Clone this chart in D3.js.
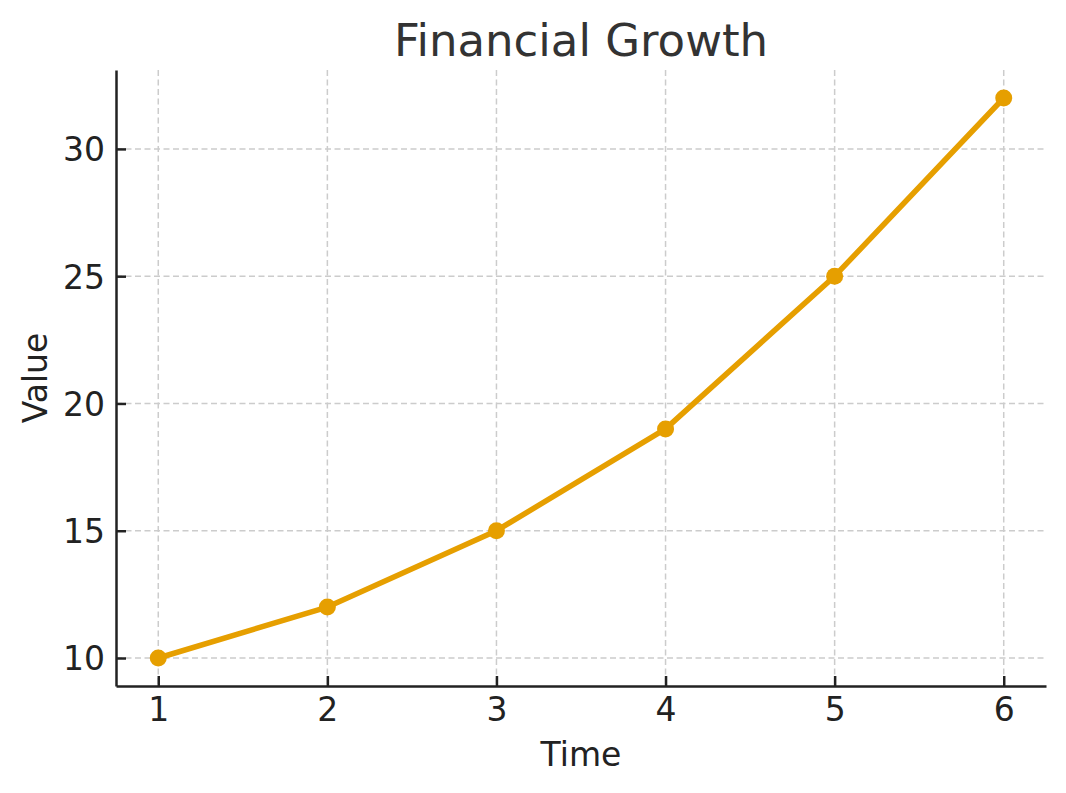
<!DOCTYPE html>
<html>
<head>
<meta charset="utf-8">
<script src="https://cdn.jsdelivr.net/npm/d3@7"></script>
<style>
  body { margin: 0; background: #fff; }
  svg { display: block; font-family: "DejaVu Sans", sans-serif; }
</style>
</head>
<body>
<div id="chart"></div>
<script>
// Chart data
const times = [1, 2, 3, 4, 5, 6];
const values = [10, 12, 15, 19, 25, 32];
const xTicks = [1, 2, 3, 4, 5, 6];
const yTicks = [10, 15, 20, 25, 30];

const width = 1066, height = 793;
const margin = { top: 70, right: 20, bottom: 107, left: 116 };
const innerW = width - margin.left - margin.right;
const innerH = height - margin.top - margin.bottom;

const svg = d3.select("#chart").append("svg")
    .attr("width", width)
    .attr("height", height);

const g = svg.append("g")
    .attr("transform", `translate(${margin.left},${margin.top})`);

// 5% padding like the original
const x = d3.scaleLinear().domain([0.75, 6.25]).range([0, innerW]);
const y = d3.scaleLinear().domain([8.9, 33.1]).range([innerH, 0]);

// Grid lines
g.append("g").selectAll("line")
    .data(xTicks)
    .join("line")
    .attr("x1", d => x(d)).attr("x2", d => x(d))
    .attr("y1", 0).attr("y2", innerH)
    .attr("stroke", "#cccccc")
    .attr("stroke-width", 1.5)
    .attr("stroke-dasharray", "6,3.5");

g.append("g").selectAll("line")
    .data(yTicks)
    .join("line")
    .attr("y1", d => y(d)).attr("y2", d => y(d))
    .attr("x1", 0).attr("x2", innerW)
    .attr("stroke", "#cccccc")
    .attr("stroke-width", 1.5)
    .attr("stroke-dasharray", "6,3.5");

// Axes (ticks pointing inward)
const xAxis = g.append("g")
    .attr("transform", `translate(0,${innerH})`)
    .call(d3.axisBottom(x).tickValues(xTicks).tickSizeInner(-10).tickSizeOuter(0).tickPadding(12).tickFormat(d3.format("d")));

const yAxis = g.append("g")
    .call(d3.axisLeft(y).tickValues(yTicks).tickSizeInner(-10).tickSizeOuter(0).tickPadding(11).tickFormat(d3.format("d")));

[xAxis, yAxis].forEach(ax => {
    ax.select(".domain").attr("stroke", "#222").attr("stroke-width", 2.5);
    ax.selectAll(".tick line").attr("stroke", "#222").attr("stroke-width", 2.5);
    ax.selectAll(".tick text")
        .attr("fill", "#222")
        .style("font-size", "33px")
        .style("font-family", "DejaVu Sans, sans-serif");
});
yAxis.selectAll(".tick text").attr("dy", "0.36em");

// Line
const line = d3.line()
    .x((d, i) => x(times[i]))
    .y(d => y(d));

g.append("path")
    .datum(values)
    .attr("fill", "none")
    .attr("stroke", "#E69F00")
    .attr("stroke-width", 5.5)
    .attr("stroke-linejoin", "round")
    .attr("d", line);

g.append("g").selectAll("circle")
    .data(values)
    .join("circle")
    .attr("cx", (d, i) => x(times[i]))
    .attr("cy", d => y(d))
    .attr("r", 8.5)
    .attr("fill", "#E69F00");

// Title and labels
svg.append("text")
    .attr("x", margin.left + innerW / 2)
    .attr("y", 56)
    .attr("text-anchor", "middle")
    .attr("fill", "#333")
    .style("font-size", "45px")
    .text("Financial Growth");

svg.append("text")
    .attr("x", margin.left + innerW / 2)
    .attr("y", 766)
    .attr("text-anchor", "middle")
    .attr("fill", "#222")
    .style("font-size", "33px")
    .text("Time");

svg.append("text")
    .attr("transform", `translate(47,${margin.top + innerH / 2}) rotate(-90)`)
    .attr("text-anchor", "middle")
    .attr("fill", "#222")
    .style("font-size", "33px")
    .text("Value");
</script>
</body>
</html>
